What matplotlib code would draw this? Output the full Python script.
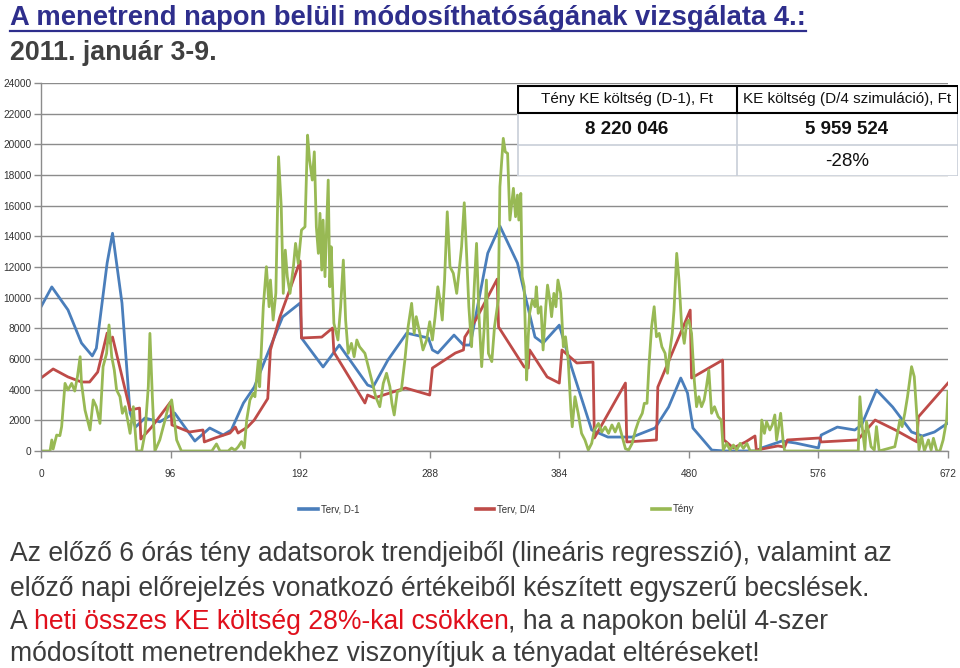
import matplotlib
matplotlib.use('Agg')
import matplotlib.pyplot as plt
from matplotlib.lines import Line2D
from matplotlib import font_manager as fm

# ---------------- data ----------------
terv_d1_x = [0, 8, 20, 30, 38, 41, 49, 53, 60, 66, 70, 77, 88, 99, 114, 125, 135, 141,
             150, 158, 166, 172, 179, 192, 193, 209, 221, 242, 246, 257, 271, 287, 290,
             294, 306, 313, 318, 331, 340, 353, 366, 372, 384, 393, 408, 420, 438, 455,
             465, 474, 479, 483, 497, 507, 530, 534, 549, 559, 576, 578, 590, 603, 608,
             619, 631, 645, 653, 662, 672]
terv_d1_y = [9400, 10700, 9200, 7040, 6200, 6700, 12260, 14200, 9650, 2480, 1560, 2150,
             1900, 2480, 650, 1500, 1050, 1370, 3130, 4170, 5930, 7240, 8740, 9650, 7370,
             5480, 6910, 4300, 4170, 5930, 7690, 7370, 6590, 6390, 7560, 6910, 6910,
             12900, 14670, 12260, 7430, 7040, 8210, 5480, 1370, 910, 910, 1500, 2870,
             4760, 3780, 1500, 60, 0, 0, 200, 650, 520, 200, 1040, 1560, 1370, 1700,
             3980, 2870, 1240, 980, 1240, 1830]

terv_d4_x = [0, 9, 20, 30, 36, 42, 49, 51, 53, 66, 73, 74, 82, 96, 97, 110, 120, 121,
             129, 140, 144, 146, 153, 158, 168, 170, 177, 192, 193, 208, 216, 217, 240,
             242, 247, 270, 288, 290, 307, 313, 314, 322, 338, 339, 358, 361, 362, 375,
             384, 386, 397, 409, 410, 433, 434, 456, 457, 481, 482, 505, 506, 513, 522,
             529, 530, 546, 551, 553, 577, 578, 605, 618, 633, 649, 650, 672]
terv_d4_y = [4760, 5350, 4830, 4500, 4500, 5150, 7690, 7040, 7430, 2670, 2800, 780, 1560,
             3200, 1700, 1240, 1370, 590, 850, 1170, 1560, 1170, 1560, 2020, 3420, 6590,
             8740, 12390, 7370, 7430, 8020, 6450, 3130, 3650, 3460, 4110, 3650, 5410,
             6390, 6590, 7430, 8540, 11210, 8090, 5480, 5410, 6590, 4830, 4430, 6590,
             5740, 5800, 850, 4430, 590, 720, 4170, 9190, 4760, 5930, 720, 200, 590, 980,
             60, 330, 260, 720, 850, 590, 720, 2020, 1370, 590, 2220, 4430]

teny_x = [0, 6.7, 8, 9, 11.6, 14, 15.3, 17.8, 20, 22.7, 25, 27, 29, 30, 32.6, 36.3, 38.7,
          41, 43.7, 46, 48.6, 50.4, 52.4, 54.3, 56, 58.5, 60.3, 62.3, 64.2, 66, 68.4,
          70.9, 74.6, 77, 79.5, 80.7, 82.5, 84.4, 88, 91.9, 94.3, 96.8, 98.8, 100.5,
          104, 126.6, 130, 132.6, 138.7, 141.2, 143.7, 146, 148.6, 150.6, 152.4, 154.8,
          157.3, 158.5, 161, 162, 164.7, 167, 169, 170, 172, 174, 176, 178, 179.5, 181,
          182.5, 184.5, 187, 188.6, 190.6, 193, 195.6, 197.5, 199, 201, 202.5, 204,
          205.5, 206.7, 208, 209, 210.4, 211.6, 212.8, 214, 215, 217, 220, 222, 224,
          225.7, 227.6, 230, 232, 234, 236, 240, 242.5, 245, 248, 251, 253.6, 256,
          258.5, 260, 261.7, 264, 267, 269.6, 272, 274.6, 276.5, 278, 280.7, 283, 285.7,
          288, 290, 292, 294, 295.6, 297.3, 299, 301, 303, 305.5, 308, 309.6, 311.6,
          313.6, 315.3, 317, 319, 321, 322.7, 324.4, 326.5, 328.4, 330, 331.5, 334, 336,
          338.8, 340, 342.5, 344, 345.7, 347.4, 350, 351.6, 353, 354, 355.5, 356.5, 358,
          359.8, 361, 362, 364, 366, 367, 368.4, 370.4, 372, 374, 375.3, 377, 378.3, 380,
          381.5, 383, 385, 387, 388.6, 390.6, 392.6, 393.6, 395.6, 398, 400.5, 403,
          405.5, 408, 410, 413, 415.5, 418, 420.5, 423, 425.4, 428, 430.4, 433, 435.4,
          438, 440.5, 443, 445.5, 447, 449, 450.4, 452.4, 454.3, 456, 458, 460, 462.4,
          464.2, 466, 467.7, 469, 471, 472.7, 474.7, 476.6, 478.3, 480, 482, 484, 485.7,
          487.4, 489.4, 491.3, 493, 494.8, 496.8, 499, 501.7, 504, 505.5, 508, 510.5,
          513, 515.4, 518, 520.4, 523, 525.4, 533, 534, 536, 537.6, 540, 541.8, 543.7,
          545, 546.6, 548, 550, 551, 605.5, 606.7, 608.4, 610.4, 611.6, 613.4, 615,
          617.4, 619, 621, 632.6, 634.6, 636.3, 638, 640, 642, 645, 647, 648.8, 650.5,
          652.5, 654.5, 657.5, 659.5, 661.2, 663.7, 666, 668.4, 671, 672]
teny_y = [0, 0, 720, 130, 1040, 1000, 1590, 4410, 3980, 4410, 3910, 4850, 6150, 4410,
          2670, 1370, 3330, 2890, 1800, 5500, 6370, 8220, 6150, 5280, 3980, 3540, 2460,
          2890, 2020, 1150, 2890, 0, 0, 1150, 4190, 7670, 3540, 0, 720, 2020, 2890, 3330,
          2020, 720, 0, 0, 460, 0, 0, 200, 50, 260, 610, 200, 2020, 3330, 3760, 3540,
          5930, 4190, 9410, 12020, 9410, 11150, 8540, 10300, 19190, 15930, 10280, 13100,
          11370, 10280, 12020, 13540, 12240, 14410, 14620, 20600, 18970, 17670, 19510,
          14620, 12890, 15500, 11800, 15060, 11370, 14620, 17670, 10710, 13320, 8330,
          7240, 9410, 12450, 8540, 6370, 7020, 6150, 7240, 6800, 6370, 5500, 4630, 3540,
          2890, 4410, 5070, 4190, 3110, 2350, 3870, 3980, 5930, 8100, 9630, 7670, 8760,
          7670, 6590, 7240, 8430, 7240, 8760, 10710, 9850, 8540, 11150, 15600, 12020,
          11590, 10280, 11590, 13320, 16190, 12890, 9410, 6800, 10710, 13540, 8980, 5500,
          8100, 11150, 6370, 5830, 8100, 9850, 17230, 20390, 19510, 19410, 15060, 17130,
          15280, 16690, 15060, 16800, 11370, 10710, 4630, 7450, 8980, 9850, 9410, 10710,
          8980, 9410, 6590, 9410, 10820, 9850, 8760, 10280, 9410, 11150, 10280, 6800,
          7450, 5930, 2670, 1580, 3540, 2460, 1150, 720, 65, 500, 1370, 1800, 1240, 1570,
          1150, 1700, 1240, 1800, 1020, 150, 65, 500, 1370, 2020, 2460, 3110, 3110, 5500,
          8100, 9410, 7450, 7670, 6800, 6370, 5070, 6590, 7670, 9190, 12890, 11150, 8100,
          7020, 8320, 8540, 7670, 4630, 2890, 3540, 2890, 3320, 4190, 5280, 2460, 2890,
          2240, 2020, 65, 500, 65, 390, 65, 500, 170, 500, 0, 0, 2020, 1150, 1910, 1370,
          1700, 2350, 720, 1590, 2460, 500, 0, 0, 3540, 1590, 65, 1910, 1150, 280, 65,
          1590, 0, 280, 1150, 2020, 1590, 2460, 3540, 5500, 4850, 2460, 65, 940, 0, 720,
          65, 830, 0, 0, 720, 2020, 3870]

x_ticks = [0, 96, 192, 288, 384, 480, 576, 672]
y_ticks = list(range(0, 24001, 2000))
series_names = ['Terv, D-1', 'Terv, D/4', 'Tény']

table_header = ['Tény KE költség (D-1), Ft', 'KE költség (D/4 szimuláció), Ft']
table_values = ['8 220 046', '5 959 524']
table_change = '-28%'

title = 'A menetrend napon belüli módosíthatóságának vizsgálata 4.:'
subtitle = '2011. január 3-9.'
body_lines = ['Az előző 6 órás tény adatsorok trendjeiből (lineáris regresszió), valamint az',
              'előző napi előrejelzés vonatkozó értékeiből készített egyszerű becslések.',
              None,
              'módosított menetrendekhez viszonyítjuk a tényadat eltéréseket!']
line3_parts = ['A ', 'heti összes KE költség 28%-kal csökken', ', ha a napokon belül 4-szer']

# ---------------- style ----------------
BLUE = '#4a7ebb'
RED = '#be4b48'
GREEN = '#98b954'
TITLE_C = '#2e2e8c'
TEXT_C = '#3c3c3c'
HL_C = '#e0101c'
GRID_C = '#8c8c8c'

installed = {f.name for f in fm.fontManager.ttflist}
has_narrow = 'Liberation Sans Narrow' in installed
NARROW = 'Liberation Sans Narrow' if has_narrow else 'Liberation Sans'
SANS = 'Liberation Sans'

W, H = 960, 668


def fx(px):
    return px / W


def fy(py):
    return 1 - py / H


fig = plt.figure(figsize=(9.6, 6.68), dpi=100)
fig.patch.set_facecolor('white')

# ---------------- chart ----------------
ax = fig.add_axes([fx(41), fy(451), fx(948) - fx(41), fy(83) - fy(451)])
ax.plot(terv_d1_x, terv_d1_y, color=BLUE, lw=2.0, label=series_names[0])
ax.plot(terv_d4_x, terv_d4_y, color=RED, lw=2.0, label=series_names[1])
ax.plot(teny_x, teny_y, color=GREEN, lw=2.0, label=series_names[2])

ax.set_xlim(0, 672)
ax.set_ylim(0, 24000)
ax.set_xticks(x_ticks)
ax.set_yticks(y_ticks)
ax.grid(axis='y', color=GRID_C, lw=1.0)
ax.set_axisbelow(True)
for s in ['top', 'right']:
    ax.spines[s].set_visible(False)
for s in ['left', 'bottom']:
    ax.spines[s].set_color(GRID_C)
    ax.spines[s].set_linewidth(1.0)
ax.tick_params(axis='both', colors=GRID_C, labelcolor='#333333', length=5, width=1.0)
ax.tick_params(axis='y', pad=2)
ax.tick_params(axis='x', pad=8)
for lab in ax.get_xticklabels() + ax.get_yticklabels():
    lab.set_fontfamily(NARROW)
    lab.set_fontsize(8 if has_narrow else 7.3)

leg = ax.legend(loc='center', bbox_to_anchor=(fx(497), fy(509)), bbox_transform=fig.transFigure,
                ncol=3, frameon=False, handlelength=1.9, handletextpad=0.3, columnspacing=12,
                prop={'family': NARROW, 'size': 8 if has_narrow else 7})
for line in leg.get_lines():
    line.set_linewidth(2.6)
for t in leg.get_texts():
    t.set_color('#333333')

# ---------------- table ----------------
tax = fig.add_axes([fx(517), fy(176), fx(958) - fx(517), fy(85) - fy(176)])
tax.set_zorder(5)
tax.set_xlim(517, 958)
tax.set_ylim(176, 85)
tax.axis('off')
tax.add_patch(plt.Rectangle((517, 85), 441, 91, facecolor='white', edgecolor='none'))
light = '#c8ced8'
for yy in [145, 175.5]:
    tax.plot([517, 958], [yy, yy], color=light, lw=1.2)
for xx in [517.5, 737, 957.5]:
    tax.plot([xx, xx], [113, 176], color=light, lw=1.2)
tax.plot([517.5, 957.5, 957.5, 517.5, 517.5], [86, 86, 113, 113, 86], color='black', lw=1.5)
tax.plot([737, 737], [86, 113], color='black', lw=1.5)

hsize = 12.5 if has_narrow else 11
vsize = 15 if has_narrow else 13.5
cols = [627, 847]
for cx, h, v in zip(cols, table_header, table_values):
    tax.text(cx, 99.5, h, ha='center', va='center', fontsize=hsize, family=NARROW, color='#111111')
    tax.text(cx, 130, v, ha='center', va='center', fontsize=vsize, family=NARROW,
             fontweight='bold', color='#111111')
tax.text(cols[1], 161, table_change, ha='center', va='center', fontsize=vsize, family=NARROW,
         color='#111111')

# ---------------- texts ----------------
t_title = fig.text(fx(10), fy(25), title, fontsize=19.7, fontweight='bold', color=TITLE_C,
                   family=SANS, va='baseline', ha='left')
fig.text(fx(10), fy(60), subtitle, fontsize=19.3, fontweight='bold', color='#404040',
         family=SANS, va='baseline', ha='left')

renderer = fig.canvas.get_renderer()
bb = t_title.get_window_extent(renderer)
fig.add_artist(Line2D([bb.x0 / W, bb.x1 / W], [fy(31), fy(31)], transform=fig.transFigure,
                      color=TITLE_C, lw=1.6))

body_kw = dict(fontsize=19.1, family=SANS, va='baseline', ha='left')
baselines = [561, 596, 629, 661]
for line, b in zip(body_lines, baselines):
    if line is not None:
        fig.text(fx(10), fy(b), line, color=TEXT_C, **body_kw)


def text_w(s):
    t = fig.text(0, 0, s, **body_kw)
    w = t.get_window_extent(renderer).width
    t.remove()
    return w


colors3 = [TEXT_C, HL_C, TEXT_C]
prefix = ''
for part, c in zip(line3_parts, colors3):
    full = prefix + part
    off = 0 if prefix == '' else text_w(full) - text_w(part)
    fig.text(fx(10 + off), fy(baselines[2]), part.strip() if prefix == '' else part,
             color=c, **body_kw)
    prefix = full

fig.savefig('out.png', dpi=100)
